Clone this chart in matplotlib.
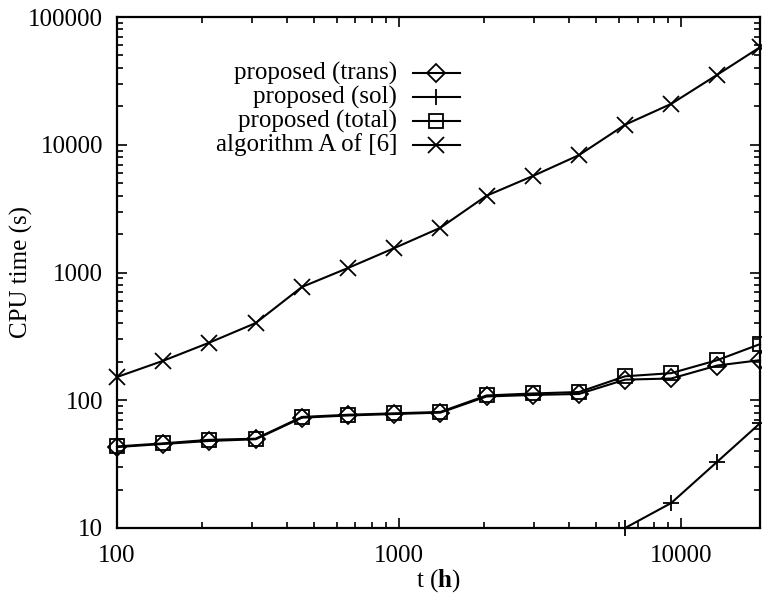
import numpy as np
import matplotlib
matplotlib.use("Agg")
import matplotlib.pyplot as plt
from matplotlib.ticker import LogLocator, FuncFormatter, NullFormatter

plt.rcParams["font.family"] = ["Liberation Serif", "DejaVu Serif"]
plt.rcParams["mathtext.fontset"] = "custom"
plt.rcParams["mathtext.rm"] = "Liberation Serif"
plt.rcParams["mathtext.bf"] = "Liberation Serif:bold"

# data
t_hours = [100, 146, 212, 310, 452, 659, 961, 1400, 2040, 2980, 4340, 6320, 9210, 13400, 19000]
cpu_trans = [43, 45.5, 48, 49.5, 73, 76, 78, 80, 107, 110, 112, 145, 148, 187, 206]
cpu_sol = [np.nan] * 11 + [10, 15.7, 33, 66]
cpu_total = [43.5, 46, 49, 50, 74, 77, 79, 81, 109, 113, 116, 154, 163, 206, 275]
cpu_alg_a = [152, 204, 282, 402, 770, 1085, 1553, 2240, 3990, 5700, 8300, 14350, 20900, 35300, 58000]

labels = ["proposed (trans)", "proposed (sol)", "proposed (total)", "algorithm A of [6]"]
markers = ["D", "+", "s", "x"]
msizes = [9, 12, 10, 12]
FS = 18

fig = plt.figure(figsize=(7.62, 5.93), dpi=100)
ax = fig.add_axes([117 / 762, 1 - 528 / 593, 643 / 762, 511 / 593])

series = [cpu_trans, cpu_sol, cpu_total, cpu_alg_a]
for ys, m, ms in zip(series, markers, msizes):
    ax.plot(t_hours, ys, color="black", linewidth=1.5, marker=m, markersize=ms,
            markerfacecolor="none", markeredgecolor="black", markeredgewidth=1.3,
            clip_on=False, zorder=3)

ax.set_xscale("log")
ax.set_yscale("log")
ax.set_xlim(100, 19000)
ax.set_ylim(10, 100000)

fmt = FuncFormatter(lambda v, p: f"{int(round(v))}")
ax.xaxis.set_major_locator(LogLocator(base=10))
ax.yaxis.set_major_locator(LogLocator(base=10))
ax.xaxis.set_major_formatter(fmt)
ax.yaxis.set_major_formatter(fmt)
ax.xaxis.set_minor_locator(LogLocator(base=10, subs=np.arange(2, 10)))
ax.yaxis.set_minor_locator(LogLocator(base=10, subs=np.arange(2, 10)))
ax.xaxis.set_minor_formatter(NullFormatter())
ax.yaxis.set_minor_formatter(NullFormatter())

ax.tick_params(which="both", direction="in", top=True, right=True, labelsize=FS)
ax.tick_params(which="major", length=7, width=1.2)
ax.tick_params(which="minor", length=4, width=1.2)
ax.tick_params(axis="y", which="major", pad=10)
ax.tick_params(axis="x", which="major", pad=12)
for sp in ax.spines.values():
    sp.set_linewidth(1.6)

ax.set_xlabel(r"t ($\mathbf{h}$)", fontsize=FS, labelpad=0)
ax.set_ylabel("CPU time (s)", fontsize=FS)
ax.yaxis.set_label_coords(-0.13, 0.5)

# gnuplot-style key: right-aligned text, sample to the right
row_y = [0.890, 0.843, 0.796, 0.750]
for lab, m, ms, yy in zip(labels, markers, msizes, row_y):
    ax.text(0.4355, yy, lab, transform=ax.transAxes, ha="right", va="center", fontsize=FS)
    ax.plot([0.460, 0.533], [yy, yy], transform=ax.transAxes, color="black", linewidth=1.5,
            clip_on=False)
    ax.plot([0.4965], [yy], transform=ax.transAxes, color="black", marker=m, markersize=ms,
            markerfacecolor="none", markeredgewidth=1.3, clip_on=False)

fig.savefig("out.png", dpi=100)
